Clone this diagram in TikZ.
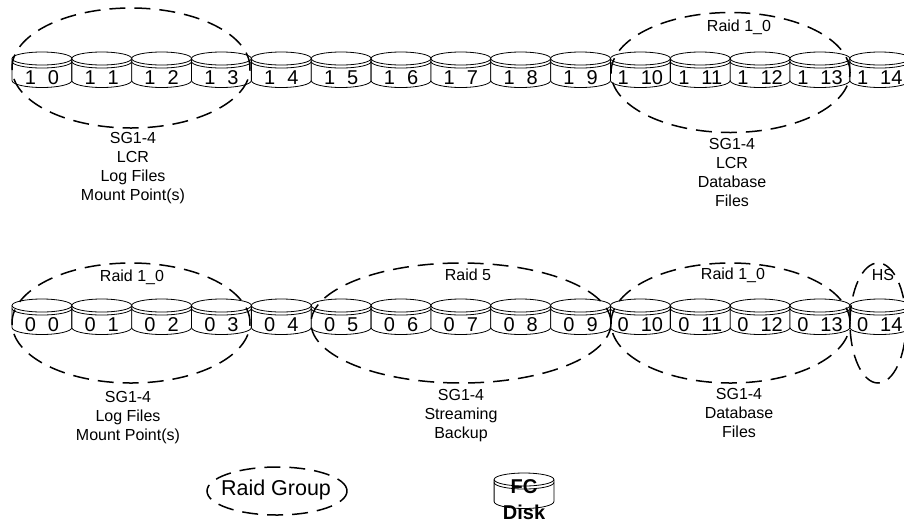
\documentclass[tikz,border=0pt]{standalone}
\usepackage{fontspec}
\setmainfont{Liberation Sans}
\usetikzlibrary{shapes.geometric}
\tikzset{
  x=1pt,y=-1pt,
  group/.style={ellipse,draw=black,line width=1.5pt,dash pattern=on 16pt off 9pt,inner sep=0pt,outer sep=0pt},
  disklabel/.style={inner sep=0pt,font=\fontsize{20}{20}\selectfont},
  caption/.style={inner sep=0pt,align=center,font=\fontsize{16}{19}\selectfont},
  diskline/.style={draw=black,line width=0.8pt,fill=white},
  pics/disk/.style={code={
    \draw[diskline] (-29.9,6.5) -- (-29.9,28.5) arc[start angle=180,end angle=0,x radius=29.9,y radius=7] -- (29.9,6.5);
    \draw[diskline] (0,6.5) ellipse[x radius=29.9,y radius=6.5];
    \draw[line width=0.8pt] (-29.9,9.5) arc[start angle=180,end angle=0,x radius=29.9,y radius=6.5];
  }}
}
\newcommand{\disklab}[2]{#1\hspace{12pt}#2}
\begin{document}
\begin{tikzpicture}
\useasboundingbox (0,0) rectangle (904,523);
\begin{scope}
\clip (0,0) rectangle (904,523);
% disks
\foreach \i in {0,...,14}{
  \pgfmathsetmacro{\cx}{41.9+59.85*\i}
  \pic at (\cx,52) {disk};
  \node[disklabel] (top\i) at (\cx,78) {\disklab{1}{\i}};
  \pic at (\cx,299) {disk};
  \node[disklabel] (bot\i) at (\cx,325) {\disklab{0}{\i}};
}
% raid groups
\node[group,minimum width=238pt,minimum height=120pt] (g1) at (131,68) {};
\node[group,minimum width=239pt,minimum height=120pt] (g2) at (730.5,72.5) {};
\node[group,minimum width=238pt,minimum height=120pt] (g3) at (131,323) {};
\node[group,minimum width=300pt,minimum height=120pt] (g4) at (461,323) {};
\node[group,minimum width=239pt,minimum height=120pt] (g5) at (730.5,323) {};
\node[group,minimum width=56pt,minimum height=120pt] (g6) at (878,323) {};
\end{scope}
% captions
\node[caption] (c1) at (133,168.5) {SG1-4\\LCR\\Log Files\\Mount Point(s)};
\node[caption] (c2) at (732,172) {SG1-4\\LCR\\Database\\Files};
\node[caption] (r2) at (739,27) {Raid 1\_0};
\node[caption] (r3) at (132,277) {Raid 1\_0};
\node[caption] (r4) at (468,275) {Raid 5};
\node[caption] (r5) at (733,275) {Raid 1\_0};
\node[caption] (r6) at (883,275) {HS};
\node[caption] (c3) at (128,417.5) {SG1-4\\Log Files\\Mount Point(s)};
\node[caption] (c4) at (461,416) {SG1-4\\Streaming\\Backup};
\node[caption] (c5) at (739,413) {SG1-4\\Database\\Files};
% legend
\node[group,minimum width=140pt,minimum height=48pt] (lg) at (277,491) {};
\node[inner sep=0pt,font=\fontsize{21.5}{21.5}\selectfont] (lgt) at (276,490) {Raid Group};
\pic at (524,473) {disk};
\node[inner sep=0pt,align=center,font=\fontsize{20}{26}\selectfont\bfseries] (lfc) at (524,500) {FC\\Disk};
\end{tikzpicture}
\end{document}
